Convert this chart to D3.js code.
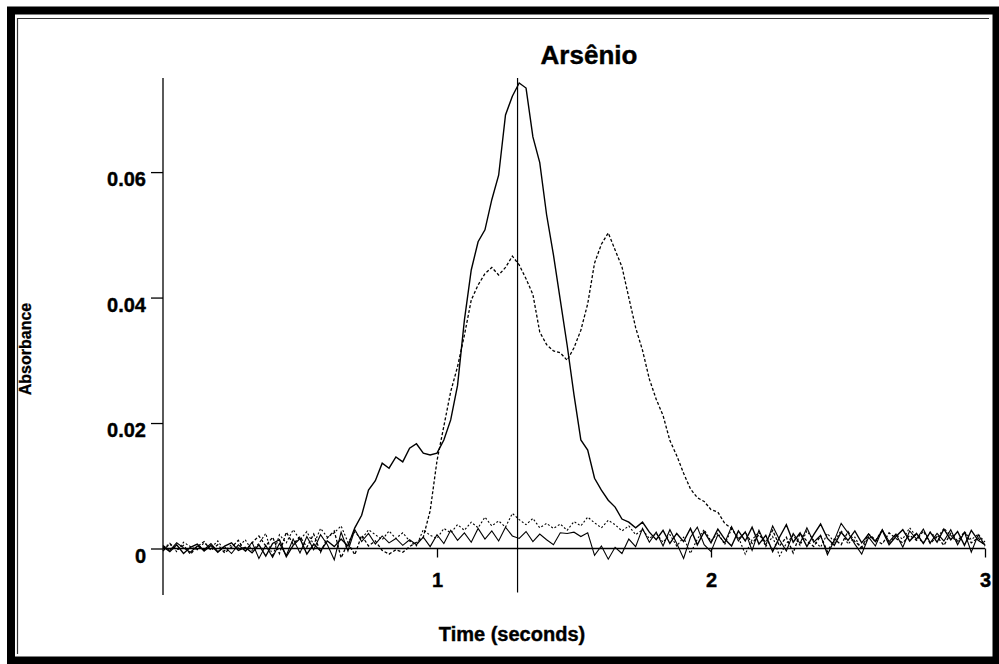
<!DOCTYPE html>
<html>
<head>
<meta charset="utf-8">
<script src="https://cdn.jsdelivr.net/npm/d3@7"></script>
<style>
  html, body { margin: 0; padding: 0; background: #fff; }
  svg { display: block; font-family: "Liberation Sans", Arial, sans-serif; }
</style>
</head>
<body>
<svg id="chart" width="999" height="664"></svg>
<script>
// sample spacing of the traces (seconds)
const sampleStep = 0.025;

// absorbance traces, in milli-absorbance, one value per sample from 0 to 3 s
const solidPeak = [
  0.3,-0.5,0.6,-0.8,0.2,0.7,-0.4,0.5,-0.6,0.4,
  0.9,-0.3,0.2,-0.7,0.6,-1.2,0.8,1.4,-1.3,0.5,
  1.6,-0.9,0.7,-0.4,1.2,0.3,1.5,0.4,3.3,5.3,
  9.3,10.8,13.6,12.8,14.6,13.8,16.0,16.7,15.2,14.9,
  15.2,17.3,20.5,26.0,36.4,44.4,48.9,50.8,55.6,59.5,
  69.1,72.1,74.2,73.4,65.6,61.5,53.2,46.8,39.6,32.4,
  24.5,17.3,15.7,11.2,9.3,7.7,6.6,4.7,4.2,3.3,
  4.2,2.6,1.4,2.9,0.8,2.4,1.1,3.2,0.6,2.7,
  0.9,3.1,1.5,0.4,2.8,1.2,3.4,0.7,2.1,-0.5,
  1.8,3.8,1.0,2.5,0.3,2.2,3.9,1.6,0.5,2.6,
  1.3,2.8,0.9,2.3,1.1,2.9,0.6,1.9,3.0,1.2,
  2.4,0.8,2.6,1.0,3.1,1.4,2.7,0.5,2.9,1.3,
  0.6
];
const dashedPeaks = [
  -0.4,0.8,-0.2,0.5,-0.9,0.3,1.1,-0.3,0.6,-0.7,
  0.2,1.3,-0.5,0.9,2.0,0.4,1.8,-0.8,2.6,0.7,
  1.9,0.2,2.3,-0.6,1.7,2.8,-1.5,0.9,-1.0,2.1,
  0.4,1.2,-0.3,-0.9,-0.2,-0.6,0.3,1.0,1.8,6.0,
  14.0,19.5,25.0,29.0,34.0,39.6,42.0,43.8,44.8,43.6,
  44.8,46.6,45.2,43.0,40.5,34.5,32.5,31.5,31.2,30.0,
  32.0,34.8,39.0,45.5,48.5,50.3,47.6,44.9,40.0,35.2,
  31.6,27.0,23.8,21.2,17.2,14.8,12.0,9.5,8.1,7.5,
  6.2,5.8,4.0,3.2,1.5,2.6,0.8,2.2,1.0,2.9,
  0.4,1.8,-0.7,2.4,1.2,0.3,2.0,-0.5,1.5,0.6,
  2.7,1.1,0.2,2.3,1.4,0.7,2.5,1.6,0.9,2.1,
  1.3,2.8,0.8,1.9,0.5,2.4,1.2,2.6,0.9,1.7,
  0.4
];
const solidBlank = [
  0.5,-0.3,0.9,0.1,-0.6,0.4,-0.2,0.8,-0.5,0.3,
  -0.8,0.6,-0.4,1.0,-1.6,0.5,-1.4,0.8,-1.1,1.5,
  -0.7,1.9,-0.2,2.2,0.6,-1.8,2.6,-0.4,3.0,1.1,
  2.4,0.7,2.0,0.9,1.6,0.5,1.4,0.6,1.8,0.3,
  2.2,0.8,2.9,1.3,2.5,1.0,3.2,1.5,2.8,1.2,
  3.4,2.0,1.6,2.7,1.1,2.3,1.4,0.6,2.5,2.4,
  2.6,1.9,2.5,-1.1,0.4,-1.7,0.2,-0.8,1.5,0.3,
  3.2,1.0,2.6,0.4,3.0,0.8,-1.6,1.8,3.4,0.6,
  -0.5,2.2,0.9,3.5,1.2,2.7,-0.3,2.9,0.5,3.6,
  1.4,-0.4,2.4,0.8,3.3,1.0,2.1,-1.0,1.3,4.0,
  2.5,0.7,-0.9,1.8,0.4,3.0,1.1,2.3,0.2,2.8,
  1.5,3.1,0.9,2.4,1.2,3.0,0.6,2.6,-0.6,2.2,
  0.5
];
const dottedBlank = [
  0.2,0.7,-0.5,1.0,0.3,-0.2,0.9,0.1,1.2,-0.4,
  0.6,0.2,1.4,-0.3,0.8,2.4,-1.3,2.2,0.9,3.0,
  1.4,2.7,0.6,3.2,1.8,2.5,3.6,1.0,2.6,1.5,
  3.0,2.2,1.4,2.8,1.6,2.5,1.2,0.4,3.0,2.1,
  1.6,3.2,2.5,3.8,2.9,4.2,3.3,5.0,3.6,4.4,
  3.4,5.6,4.6,3.8,4.8,3.3,4.0,3.2,3.9,2.9,
  4.3,3.6,5.0,4.1,3.3,4.5,3.8,2.8,3.6,2.2,
  3.0,1.6,2.4,1.0,2.2,0.4,1.8,-0.8,1.5,3.0,
  1.2,2.5,0.6,3.1,1.8,-0.9,1.4,2.6,0.3,1.9,
  -1.2,0.8,2.1,0.5,2.8,1.3,0.2,2.4,1.0,2.9,
  0.7,1.8,-0.2,2.0,1.2,3.0,0.8,2.2,1.5,3.3,
  1.9,0.9,2.6,1.6,3.2,2.1,0.9,2.7,1.4,2.3,
  1.0
];

const xTicks = [1, 2, 3];
const yTicks = [0, 0.02, 0.04, 0.06];
const cursorTime = 1.294;

const svg = d3.select("#chart");

// frame: thick black border plus a thin inner rule on the top and left
svg.append("rect")
   .attr("x", 11).attr("y", 10.5)
   .attr("width", 985.5).attr("height", 650)
   .attr("fill", "none").attr("stroke", "#000").attr("stroke-width", 8);
svg.append("path")
   .attr("d", "M17.5,654V18.5H989")
   .attr("fill", "none").attr("stroke", "#333").attr("stroke-width", 1.2);

const xScale = d3.scaleLinear().domain([0, 3]).range([163, 985]);
const yScale = d3.scaleLinear().domain([0, 0.075]).range([548.5, 78]);

const labelFont = "'Liberation Sans', Arial, sans-serif";

// axes
const yAxis = d3.axisLeft(yScale)
                .tickValues(yTicks)
                .tickSizeInner(12)
                .tickSizeOuter(0)
                .tickFormat(d => d === 0 ? "0" : d3.format(".2f")(d));
const gy = svg.append("g").attr("transform", "translate(163,0)").call(yAxis);
gy.select(".domain").remove();
gy.selectAll("line").attr("stroke", "#000").attr("stroke-width", 1.3);
gy.selectAll("text")
  .attr("x", -17).attr("y", 13.5).attr("dy", null)
  .attr("font-size", 20).attr("font-weight", "bold").attr("fill", "#000")
  .attr("stroke", "#000").attr("stroke-width", 0.4)
  .attr("font-family", labelFont);

const xAxis = d3.axisBottom(xScale)
                .tickValues(xTicks)
                .tickSizeInner(9)
                .tickSizeOuter(0)
                .tickFormat(d3.format("d"));
const gx = svg.append("g").attr("transform", "translate(0," + yScale(0) + ")").call(xAxis);
gx.select(".domain").remove();
gx.selectAll("line").attr("stroke", "#000").attr("stroke-width", 1.3);
gx.selectAll("text")
  .attr("y", 38.5).attr("dy", null)
  .attr("font-size", 20).attr("font-weight", "bold").attr("fill", "#000")
  .attr("stroke", "#000").attr("stroke-width", 0.4)
  .attr("font-family", labelFont);

// axis lines (the y axis runs on below zero, as in the instrument plot)
svg.append("line")
   .attr("x1", xScale(0)).attr("x2", xScale(0))
   .attr("y1", yScale(0.075)).attr("y2", yScale(0) + 46.5)
   .attr("stroke", "#000").attr("stroke-width", 1.3);
svg.append("line")
   .attr("x1", xScale(0)).attr("x2", xScale(3))
   .attr("y1", yScale(0)).attr("y2", yScale(0))
   .attr("stroke", "#000").attr("stroke-width", 1.6);

// cursor
svg.append("line")
   .attr("x1", xScale(cursorTime)).attr("x2", xScale(cursorTime))
   .attr("y1", yScale(0.075)).attr("y2", yScale(0) + 44)
   .attr("stroke", "#000").attr("stroke-width", 1.2);

// traces
const line = d3.line()
               .x((d, i) => xScale(i * sampleStep))
               .y(d => yScale(d / 1000));

const traces = [
  { data: solidBlank, dash: null, width: 1.1 },
  { data: dottedBlank, dash: "2,2", width: 1.1 },
  { data: dashedPeaks, dash: "3,2", width: 1.3 },
  { data: solidPeak, dash: null, width: 1.4 }
];
svg.selectAll("path.trace")
   .data(traces)
   .enter()
   .append("path")
   .attr("class", "trace")
   .attr("d", d => line(d.data))
   .attr("fill", "none")
   .attr("stroke", "#000")
   .attr("stroke-width", d => d.width)
   .attr("stroke-dasharray", d => d.dash);

// titles
svg.append("text")
   .attr("x", 589).attr("y", 64)
   .attr("text-anchor", "middle")
   .attr("font-size", 26).attr("font-weight", "bold")
   .attr("stroke", "#000").attr("stroke-width", 0.4)
   .text("Arsênio");
svg.append("text")
   .attr("x", 512).attr("y", 641)
   .attr("text-anchor", "middle")
   .attr("font-size", 20).attr("font-weight", "bold")
   .attr("stroke", "#000").attr("stroke-width", 0.4)
   .text("Time (seconds)");
svg.append("text")
   .attr("transform", "translate(31,349) rotate(-90)")
   .attr("text-anchor", "middle")
   .attr("font-size", 16).attr("font-weight", "bold")
   .attr("stroke", "#000").attr("stroke-width", 0.3)
   .text("Absorbance");
</script>
</body>
</html>
